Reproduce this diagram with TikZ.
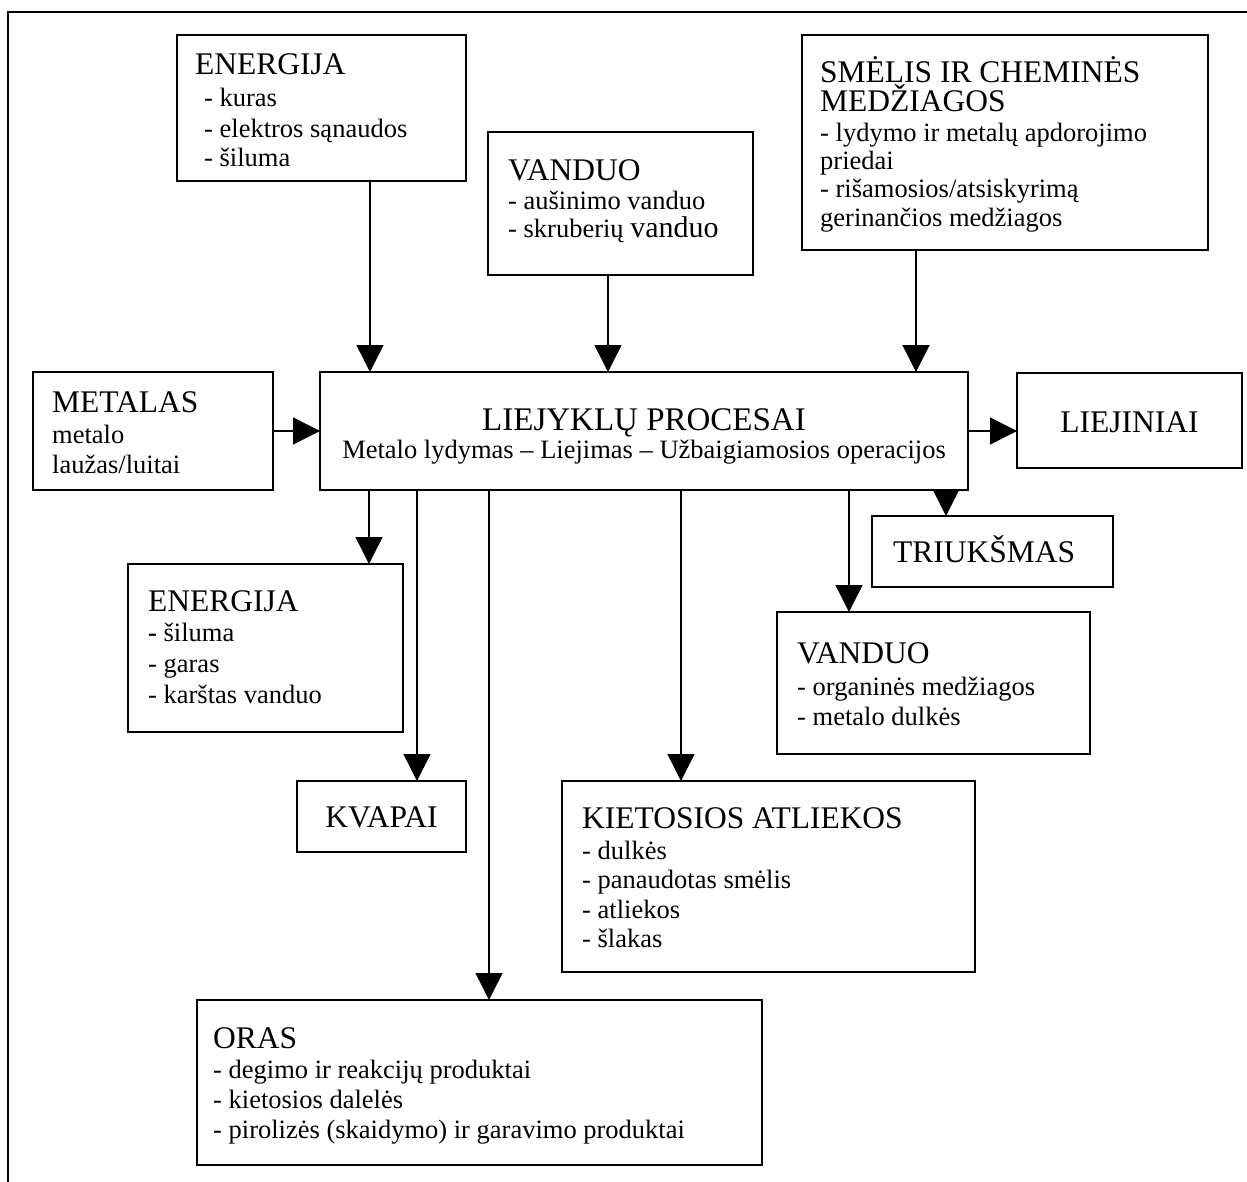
\documentclass[tikz,border=0pt]{standalone}
\usepackage{fontspec}
\setmainfont{Liberation Serif}
\usetikzlibrary{arrows.meta}
\tikzset{
  box/.style={draw, line width=2.6pt, inner sep=0pt, outer sep=0pt},
  hd/.style={anchor=base west, inner sep=0pt, font=\fontsize{31.5}{36}\selectfont},
  hdc/.style={anchor=base, inner sep=0pt, font=\fontsize{31.5}{36}\selectfont},
  bd/.style={anchor=base west, inner sep=0pt, font=\fontsize{26.5}{30}\selectfont},
  bdc/.style={anchor=base, inner sep=0pt, font=\fontsize{26.5}{30}\selectfont},
  arr/.style={line width=1.4pt, -{Triangle[length=27pt,width=27pt]}},
  frame/.style={line width=1.4pt}
}
\begin{document}
\begin{tikzpicture}[x=1pt,y=-1pt]
\useasboundingbox (0,0) rectangle (1247,1182);
\draw[frame] (1247,12) -- (8,12) -- (8,1182);

% boxes
\node[box, minimum width=289pt, minimum height=146pt] (E1) at (321.5,108) {};
\node[box, minimum width=265pt, minimum height=143pt] (V1) at (620.5,203.5) {};
\node[box, minimum width=406pt, minimum height=215pt] (S) at (1005,142.5) {};
\node[box, minimum width=240pt, minimum height=118pt] (M) at (153,431) {};
\node[box, minimum width=648pt, minimum height=118pt] (P) at (644,431) {};
\node[box, minimum width=225pt, minimum height=95pt] (L) at (1129.5,420.5) {};
\node[box, minimum width=241pt, minimum height=71pt] (T) at (992.5,551.5) {};
\node[box, minimum width=313pt, minimum height=142pt] (V2) at (933.5,683) {};
\node[box, minimum width=275pt, minimum height=168pt] (E2) at (265.5,648) {};
\node[box, minimum width=169pt, minimum height=71pt] (K) at (381.5,816.5) {};
\node[box, minimum width=413pt, minimum height=191pt] (KI) at (768.5,876.5) {};
\node[box, minimum width=565pt, minimum height=165pt] (O) at (479.5,1082.5) {};

% texts
\node[hd] (e1t) at (195,75) {ENERGIJA};
\node[bd] (e1a) at (204,107) {- kuras};
\node[bd] (e1b) at (204,138) {- elektros sąnaudos};
\node[bd] (e1c) at (204,167) {- šiluma};

\node[hd] (v1t) at (508,181) {VANDUO};
\node[bd] (v1a) at (508,210) {- aušinimo vanduo};
\node[bd] (v1b) at (508,238) {- skruberių {\fontsize{30}{34}\selectfont vanduo}};

\node[hd] (st1) at (820,83) {SMĖLIS IR CHEMINĖS};
\node[hd] (st2) at (820,112) {MEDŽIAGOS};
\node[bd] (sa) at (820,142) {- lydymo ir metalų apdorojimo};
\node[bd] (sb) at (820,170) {priedai};
\node[bd] (sc) at (820,198) {- rišamosios/atsiskyrimą};
\node[bd] (sd) at (820,227) {gerinančios medžiagos};

\node[hd] (mt) at (52,412) {METALAS};
\node[bd] (ma) at (52,443) {metalo};
\node[bd] (mb) at (52,473) {laužas/luitai};

\node[hdc, font=\fontsize{33}{38}\selectfont] (pt) at (644,430) {LIEJYKLŲ PROCESAI};
\node[bdc] (pa) at (644,458) {Metalo lydymas – Liejimas – Užbaigiamosios operacijos};

\node[hdc] (lt) at (1129.5,432) {LIEJINIAI};
\node[hd] (tt) at (893,562) {TRIUKŠMAS};

\node[hd] (v2t) at (797,663) {VANDUO};
\node[bd] (v2a) at (797,695) {- organinės medžiagos};
\node[bd] (v2b) at (797,725) {- metalo dulkės};

\node[hd] (e2t) at (148,611) {ENERGIJA};
\node[bd] (e2a) at (148,641) {\textbf{-} šiluma};
\node[bd] (e2b) at (148,672) {- garas};
\node[bd] (e2c) at (148,703) {- karštas vanduo};

\node[hdc] (kt) at (381.5,827) {KVAPAI};

\node[hd] (kit) at (582,828) {KIETOSIOS ATLIEKOS};
\node[bd] (kia) at (582,859) {- dulkės};
\node[bd] (kib) at (582,888) {- panaudotas smėlis};
\node[bd] (kic) at (582,918) {- atliekos};
\node[bd] (kid) at (582,947) {- šlakas};

\node[hd] (ot) at (213,1048) {ORAS};
\node[bd] (oa) at (213,1078) {- degimo ir reakcijų produktai};
\node[bd] (ob) at (213,1108) {- kietosios dalelės};
\node[bd] (oc) at (213,1138) {- pirolizės (skaidymo) ir garavimo produktai};

% connector anchor points
\coordinate (c1) at ([xshift=193pt]E1.south west);
\coordinate (c2) at ([xshift=120pt]V1.south west);
\coordinate (c3) at ([xshift=114pt]S.south west);
\coordinate (d1) at ([xshift=49pt]P.south west);
\coordinate (d2) at ([xshift=97pt]P.south west);
\coordinate (d3) at ([xshift=169pt]P.south west);
\coordinate (d4) at ([xshift=361pt]P.south west);
\coordinate (d5) at ([xshift=529pt]P.south west);
\coordinate (d6) at ([xshift=626pt]P.south west);

% connectors
\draw[arr] (c1) -- (c1 |- P.north);
\draw[arr] (c2) -- (c2 |- P.north);
\draw[arr] (c3) -- (c3 |- P.north);
\draw[arr] (M.east) -- (M.east -| P.west);
\draw[arr] (P.east |- M.east) -- (P.east |- M.east -| L.west);
\draw[arr] (d1) -- (d1 |- E2.north);
\draw[arr] (d2) -- (d2 |- K.north);
\draw[arr] (d3) -- (d3 |- O.north);
\draw[arr] (d4) -- (d4 |- KI.north);
\draw[arr] (d5) -- (d5 |- V2.north);
\draw[arr] (d6) -- (d6 |- T.north);
\end{tikzpicture}
\end{document}
